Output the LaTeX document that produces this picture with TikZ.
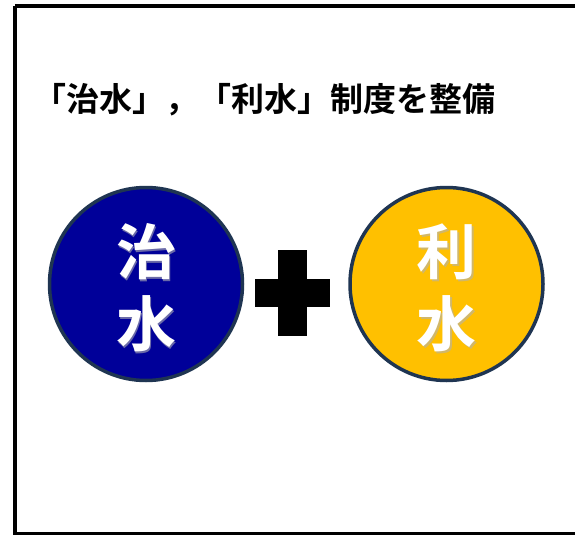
\documentclass[tikz,border=0pt]{standalone}
\usepackage{fontspec}
\newfontfamily\jp{Noto Sans CJK JP Bold}
\definecolor{navyfill}{HTML}{000099}
\definecolor{goldfill}{HTML}{FFC000}
\definecolor{ringcol}{HTML}{1F3552}
\begin{document}
\begin{tikzpicture}[x=1pt,y=-1pt,
  circ/.style={circle,draw=ringcol,line width=3.5pt,minimum size=193pt,inner sep=0pt},
  chartxt/.style={font=\jp\fontsize{60}{60}\selectfont,text=white,inner sep=0pt},
  chshadow/.style={font=\jp\fontsize{60}{60}\selectfont,text=black!30,opacity=0.6,inner sep=0pt}]
\useasboundingbox (0,0) rectangle (575,535);
\fill[white] (0,0) rectangle (575,535);
\draw[line width=3.5pt] (15,6) -- (585,6) (15,6) -- (15,533.5) -- (585,533.5);
\node[font=\jp\fontsize{33}{33}\selectfont,inner sep=0pt] (title) at (264,100) {「治水」，「利水」制度を整備};
\node[circ,fill=navyfill] (c1) at (146,284) {};
\node[circ,fill=goldfill] (c2) at (446.5,284) {};
\node[chshadow] (s1) at (147.5,253.5) {治};
\node[chshadow] (s2) at (147.5,325.5) {水};
\node[chshadow] (s3) at (448,253.5) {利};
\node[chshadow] (s4) at (448,325.5) {水};
\node[chartxt] (t1) at (146,252) {治};
\node[chartxt] (t2) at (146,324) {水};
\node[chartxt] (t3) at (446.5,252) {利};
\node[chartxt] (t4) at (446.5,324) {水};
\fill[black] (278,250) rectangle (307,336);
\fill[black] (255,279) rectangle (330,307);
\end{tikzpicture}
\end{document}
